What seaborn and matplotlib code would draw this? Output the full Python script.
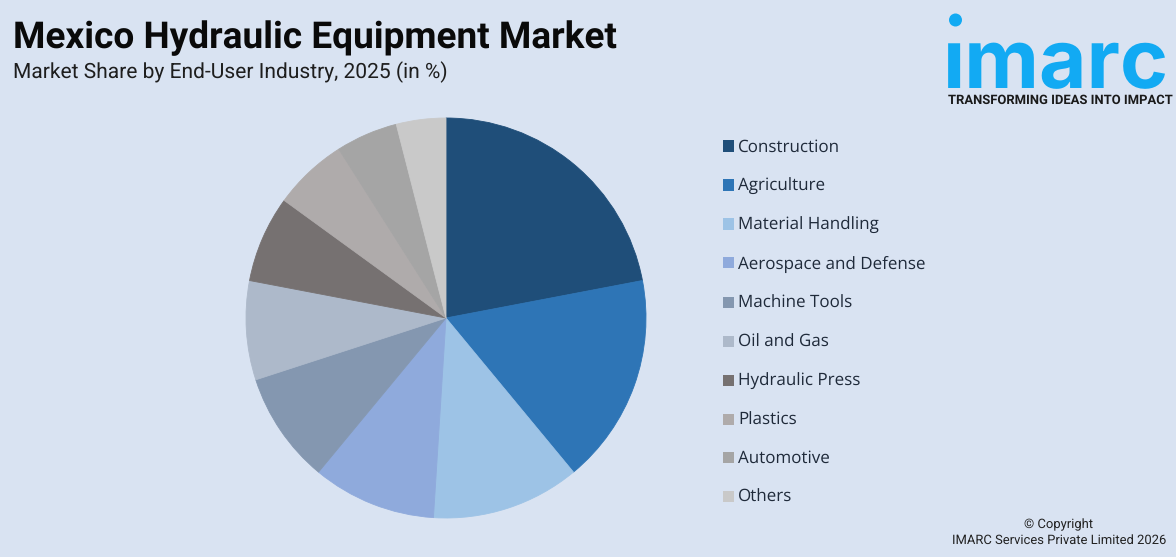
import matplotlib
matplotlib.use("Agg")
import matplotlib.pyplot as plt
import seaborn as sns
from matplotlib.patches import Rectangle, Circle

sns.set_theme(style="white")
plt.rcParams['font.family'] = ['Roboto', 'DejaVu Sans']
plt.rcParams['text.hinting'] = 'none'
plt.rcParams['text.hinting_factor'] = 1

categories = ["Construction", "Agriculture", "Material Handling", "Aerospace and Defense",
              "Machine Tools", "Oil and Gas", "Hydraulic Press", "Plastics", "Automotive", "Others"]
shares = [22, 17, 12, 10, 9, 8, 7, 6, 5, 4]
colors = ["#1F4E79", "#2E75B6", "#9DC3E6", "#8FAADC", "#8497B0", "#ADB9CA", "#767171", "#AFABAB", "#A5A5A5", "#C9C9C9"]
BG = "#D9E3F2"

W, H = 1176, 557
fig = plt.figure(figsize=(W/100, H/100), dpi=100, facecolor=BG)
ax = fig.add_axes([(446-201)/W, 1-(318+201)/H, 402/W, 402/H])
wedges, _ = ax.pie(shares, colors=colors, startangle=90, counterclock=False, radius=1.0,
                   wedgeprops=dict(linewidth=0))
for w, c in zip(wedges, colors):
    w.set_edgecolor(c)
    w.set_linewidth(0.6)
ax.set_xlim(-1.005, 1.005); ax.set_ylim(-1.005, 1.005)
ax.set_aspect("equal")

fig.text(13/W, 1-48/H, "Mexico Hydraulic Equipment Market", fontsize=26.9, fontweight="bold", color="#0A0A0A", va="baseline", ha="left")
fig.text(13/W, 1-78/H, "Market Share by End-User Industry, 2025 (in %)", fontsize=14.8, color="#1E1E1E", va="baseline", ha="left")

ys = [146, 185, 224, 263, 302, 341, 380, 419, 457, 496]
for name, c, y in zip(categories, colors, ys):
    fig.add_artist(Rectangle((723/W, 1-(y+5.5)/H), 11/W, 11/H, transform=fig.transFigure, facecolor=c, edgecolor="none"))
    fig.text(738/W, 1-(y+5.5)/H, name, fontsize=12.6, color="#1F2A3A", va="baseline", ha="left", family=["Open Sans", "DejaVu Sans"])

# logo as text
LOGO = "#12AAF3"
fig.text(943/W, 1-88/H, "ımarc", fontsize=59, fontweight="bold", color=LOGO, va="baseline", ha="left", family=["Inter", "DejaVu Sans"])
ax_logo = fig.add_axes([0, 0, 1, 1], facecolor="none"); ax_logo.set_axis_off()
ax_logo.set_xlim(0, W); ax_logo.set_ylim(H, 0)
ax_logo.add_patch(Circle((955.5, 20), 6.5, facecolor=LOGO, edgecolor="none"))
fig.text(948/W, 1-104/H, "TRANSFORMING IDEAS INTO IMPACT", fontsize=9.3, fontweight="bold", color="#1A1A1A", va="baseline", ha="left")

fig.text(1059/W, 1-528/H, "© Copyright", fontsize=9.2, color="#222222", va="baseline", ha="center")
fig.text(1166/W, 1-544/H, "IMARC Services Private Limited 2026", fontsize=9.3, color="#222222", va="baseline", ha="right")

fig.savefig("out.png", dpi=100, facecolor=BG)
